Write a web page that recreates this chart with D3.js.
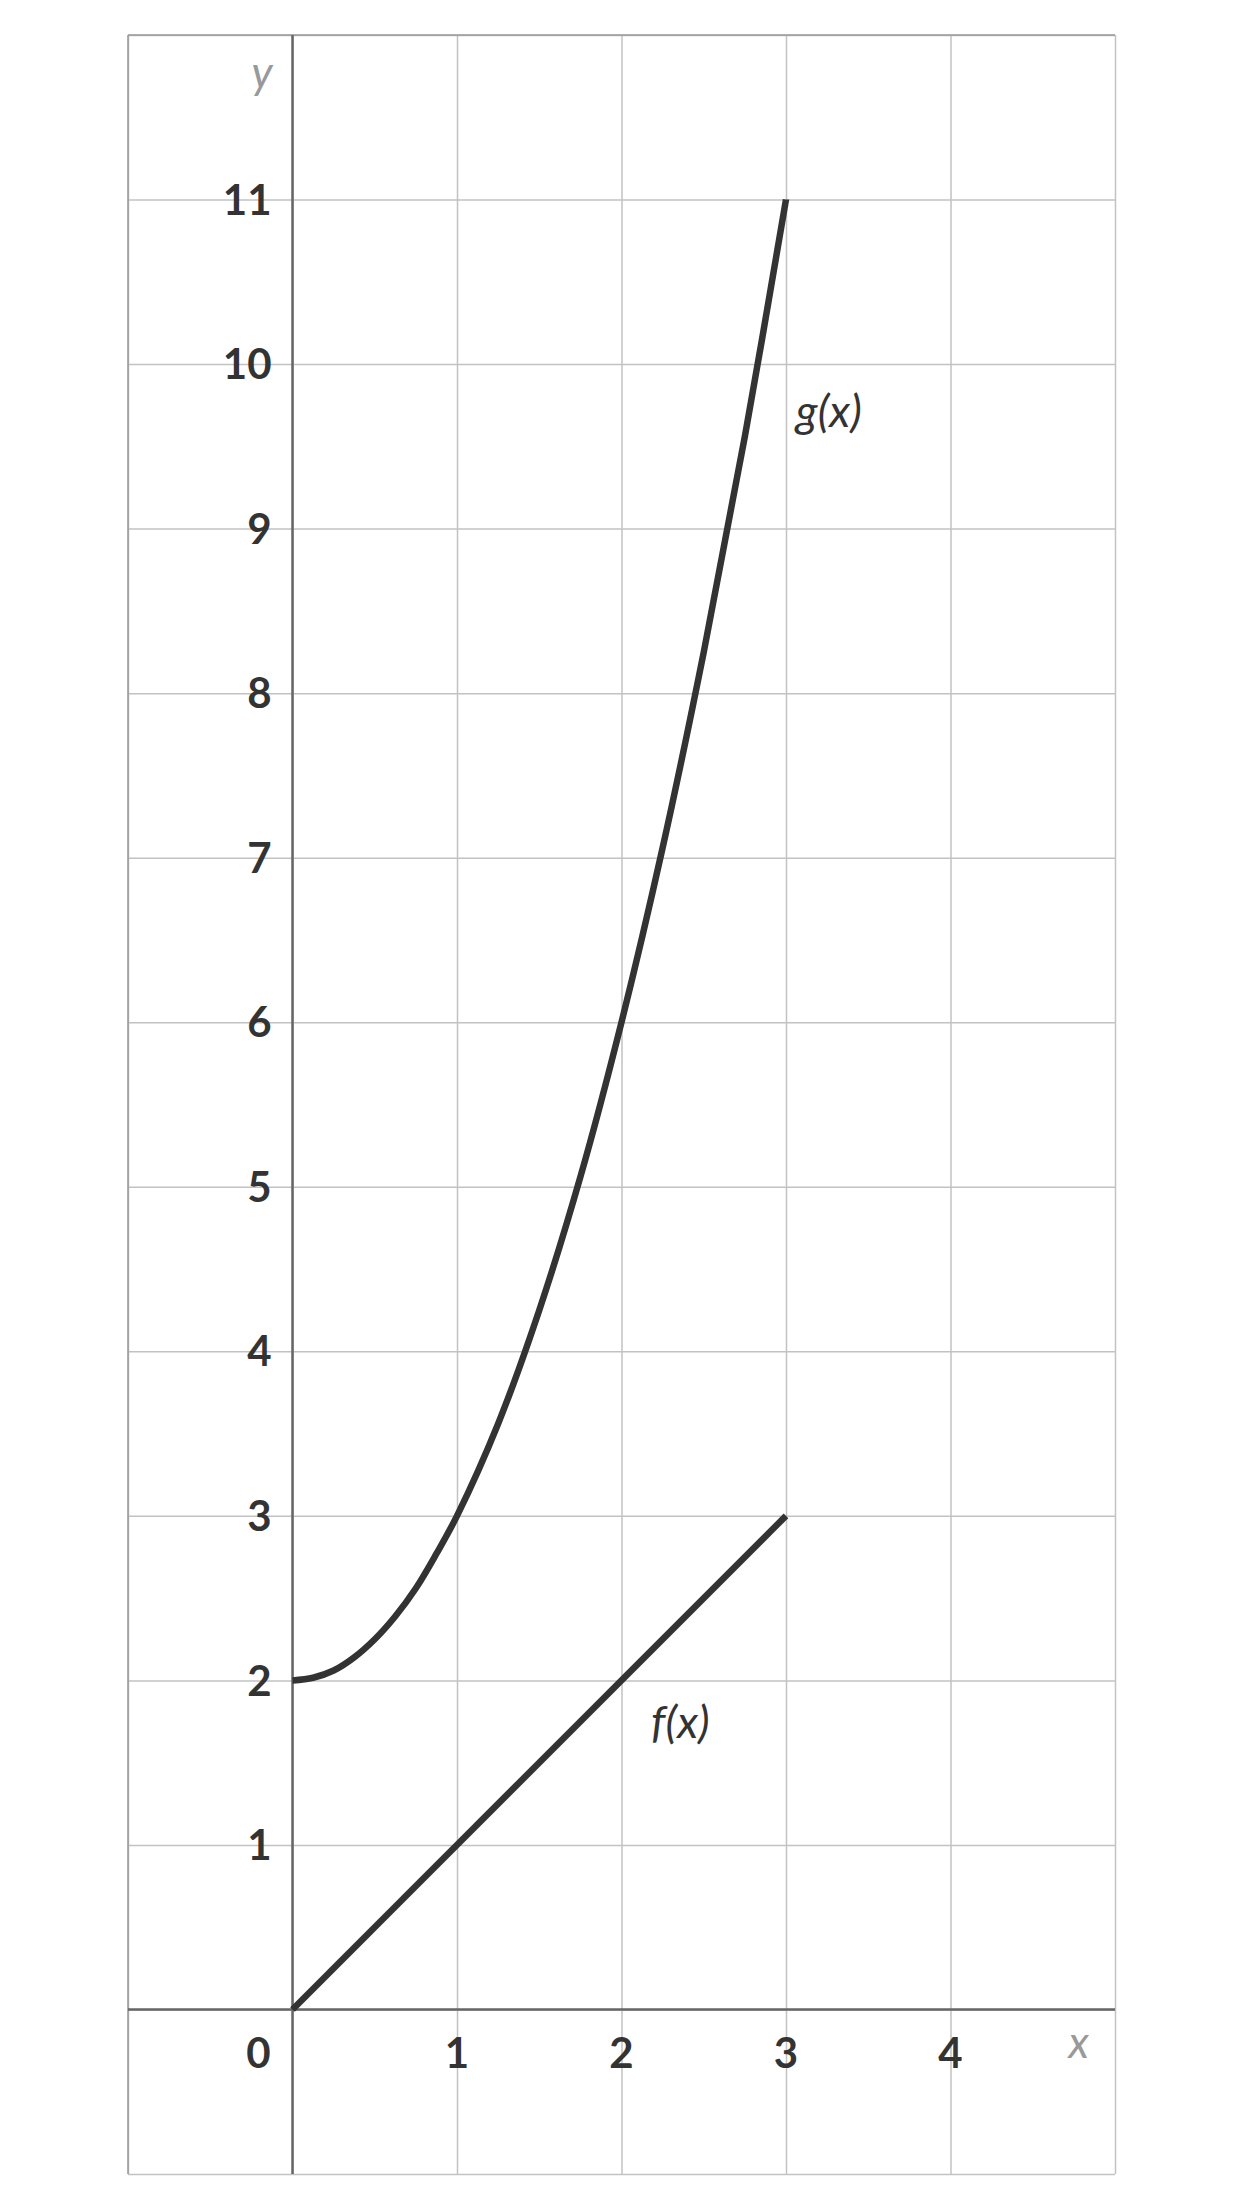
<!DOCTYPE html>
<html lang="en">
<head>
    <meta charset="UTF-8">
    <title>f(x) and g(x)</title>
    <script src="https://d3js.org/d3.v7.min.js"></script>
    <style>
        body {
            margin: 0;
            background: #fff;
        }
        .grid line {
            stroke: #c2c2c2;
            stroke-width: 1.5;
        }
        .grid path {
            display: none;
        }
        .tick-label {
            font-family: Lato, "Open Sans", sans-serif;
            font-weight: 700;
            font-size: 42px;
            fill: #333;
        }
        .axis-name {
            font-family: Lato, "Open Sans", sans-serif;
            font-style: italic;
            font-size: 44px;
            fill: #999;
        }
        .curve-label {
            font-family: Lato, "Open Sans", sans-serif;
            font-style: italic;
            font-size: 45px;
            fill: #333;
        }
    </style>
</head>
<body>
    <svg width="1251" height="2210"></svg>

    <script>
        // tick values on each axis
        const xTicks = [1, 2, 3, 4];
        const yTicks = [1, 2, 3, 4, 5, 6, 7, 8, 9, 10, 11];

        // f(x)
        const fX = [0, 3];
        const fY = [0, 3];

        // g(x) (denser near the flat start)
        const gX = [0, 0.125, 0.25, 0.375, 0.5, 0.625, 0.75, 0.875, 1, 1.25, 1.5, 1.75, 2, 2.25, 2.5, 2.75, 3];
        const gY = [2, 2.016, 2.06, 2.14, 2.25, 2.39, 2.56, 2.77, 3, 3.56, 4.25, 5.06, 6, 7.06, 8.25, 9.56, 11];

        // where the curve names sit (baseline, left edge)
        const labels = [
            {text: "g(x)", x: 3.06, y: 9.62},
            {text: "f(x)", x: 2.18, y: 1.65}
        ];

        const svg = d3.select("svg");

        // plot frame, in pixels
        const frame = {left: 128, right: 1115, top: 35, bottom: 2174};

        const x = d3.scaleLinear().domain([-1, 5]).range([frame.left, frame.right]);
        const y = d3.scaleLinear().domain([-1, 12]).range([frame.bottom, frame.top]);

        // vertical grid lines
        svg.append("g")
            .attr("class", "grid")
            .attr("transform", `translate(0,${frame.bottom})`)
            .call(d3.axisBottom(x).tickValues(d3.range(-1, 6)).tickSize(-(frame.bottom - frame.top)).tickFormat(""));

        // horizontal grid lines
        svg.append("g")
            .attr("class", "grid")
            .attr("transform", `translate(${frame.left},0)`)
            .call(d3.axisLeft(y).tickValues(d3.range(-1, 13)).tickSize(-(frame.right - frame.left)).tickFormat(""));

        // left and top edges are a bit darker
        svg.append("line")
            .attr("x1", x(-1)).attr("x2", x(-1))
            .attr("y1", y(12)).attr("y2", y(-1))
            .attr("stroke", "#999").attr("stroke-width", 1.5);
        svg.append("line")
            .attr("x1", x(-1)).attr("x2", x(5))
            .attr("y1", y(12)).attr("y2", y(12))
            .attr("stroke", "#999").attr("stroke-width", 1.5);

        // the two axes through the origin
        svg.append("line")
            .attr("x1", x(-1)).attr("x2", x(5))
            .attr("y1", y(0)).attr("y2", y(0))
            .attr("stroke", "#666").attr("stroke-width", 2.5);

        svg.append("line")
            .attr("x1", x(0)).attr("x2", x(0))
            .attr("y1", y(12)).attr("y2", y(-1))
            .attr("stroke", "#666").attr("stroke-width", 2.5);

        // tick labels
        svg.selectAll(".xlab")
            .data(xTicks)
            .enter()
            .append("text")
            .attr("class", "tick-label")
            .attr("x", d => x(d))
            .attr("y", y(0) + 43)
            .attr("dy", "0.36em")
            .attr("text-anchor", "middle")
            .text(d => d);

        svg.selectAll(".ylab")
            .data(yTicks)
            .enter()
            .append("text")
            .attr("class", "tick-label")
            .attr("x", x(0) - 21)
            .attr("y", d => y(d))
            .attr("dy", "0.36em")
            .attr("text-anchor", "end")
            .text(d => d);

        svg.append("text")
            .attr("class", "tick-label")
            .attr("x", x(0) - 34)
            .attr("y", y(0) + 43)
            .attr("dy", "0.36em")
            .attr("text-anchor", "middle")
            .text("0");

        // axis names
        svg.append("text")
            .attr("class", "axis-name")
            .attr("x", x(0) - 20)
            .attr("y", y(11.68))
            .attr("text-anchor", "end")
            .text("y");

        svg.append("text")
            .attr("class", "axis-name")
            .attr("x", x(4.78))
            .attr("y", y(0) + 49)
            .attr("text-anchor", "middle")
            .text("x");

        // curves
        const line = d3.line()
            .x(d => x(d[0]))
            .y(d => y(d[1]))
            .curve(d3.curveCatmullRom);

        svg.append("path")
            .datum(d3.zip(gX, gY))
            .attr("d", line)
            .attr("fill", "none")
            .attr("stroke", "#333")
            .attr("stroke-width", 6.5);

        svg.append("path")
            .datum(d3.zip(fX, fY))
            .attr("d", line)
            .attr("fill", "none")
            .attr("stroke", "#333")
            .attr("stroke-width", 6.5);

        svg.selectAll(".clab")
            .data(labels)
            .enter()
            .append("text")
            .attr("class", "curve-label")
            .attr("x", d => x(d.x))
            .attr("y", d => y(d.y))
            .text(d => d.text);
    </script>
</body>
</html>
